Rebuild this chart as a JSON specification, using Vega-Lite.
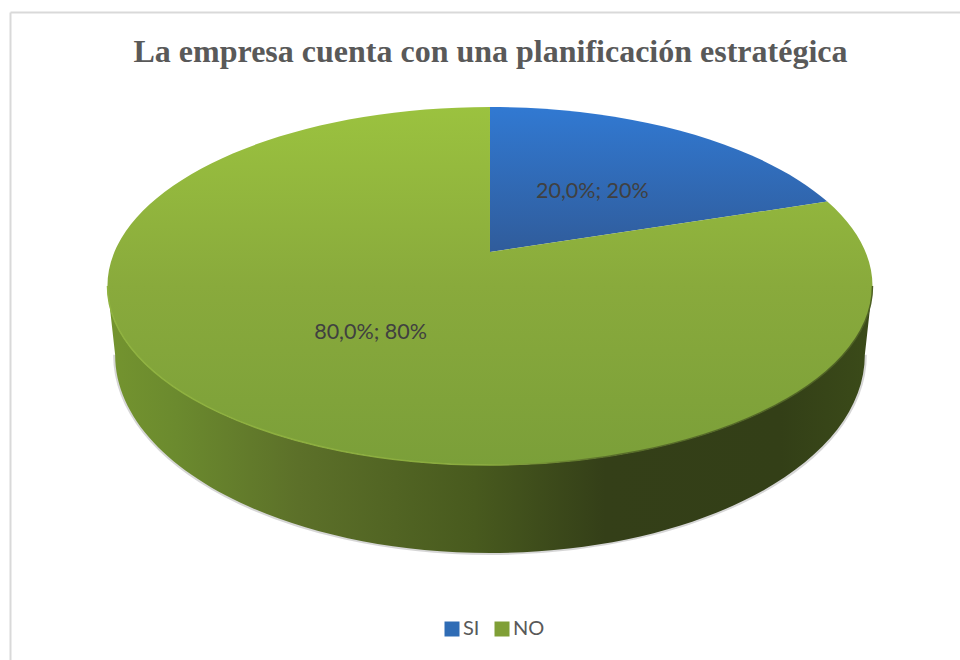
{
  "$schema": "https://vega.github.io/schema/vega-lite/v6.json",
  "width": 950,
  "height": 648,
  "padding": {"left": 10, "top": 12, "right": 0, "bottom": 0},
  "autosize": "none",
  "background": "white",
  "view": {"stroke": null},
  "title": {
    "text": "La empresa cuenta con una planificación estratégica",
    "font": "Liberation Serif",
    "fontSize": 32,
    "fontWeight": "bold",
    "color": "#595959",
    "anchor": "middle",
    "offset": -57,
    "dx": 5.5
  },
  "data": {"values": [
    {"answer": "SI", "value": 20},
    {"answer": "NO", "value": 80}
  ]},
  "transform": [
    {"joinaggregate": [{"op": "sum", "field": "value", "as": "total"}]},
    {"window": [{"op": "sum", "field": "value", "as": "cum"}], "sort": [{"field": "value", "order": "ascending"}]},
    {"calculate": "2*PI*(datum.cum-datum.value)/datum.total", "as": "a0"},
    {"calculate": "2*PI*datum.cum/datum.total", "as": "a1"},
    {"calculate": "(datum.a0+datum.a1)/2", "as": "mid"},
    {"calculate": "round(100000*sin(datum.a0)*0.9818/(1+0.19*cos(datum.a0)))/100000+','+round(-46800*(cos(datum.a0)+0.19)/(1+0.19*cos(datum.a0)))/100000", "as": "p0"},
    {"calculate": "round(100000*sin(datum.a1)*0.9818/(1+0.19*cos(datum.a1)))/100000+','+round(-46800*(cos(datum.a1)+0.19)/(1+0.19*cos(datum.a1)))/100000", "as": "p1"},
    {"calculate": "'M0,-0.0889 L'+datum.p0+' A1,0.468 0 '+(datum.a1-datum.a0>PI?1:0)+' 1 '+datum.p1+' Z'", "as": "wedge"},
    {"calculate": "0.5*sin(datum.mid)*0.9818/(1+0.095*cos(datum.mid))", "as": "labelX"},
    {"calculate": "(0.5*cos(datum.mid)+0.19)/(1+0.095*cos(datum.mid))", "as": "labelY"},
    {"calculate": "replace(format(datum.value,'.1f'),'.',',')+'%; '+format(datum.value/datum.total,'.0%')", "as": "labelText"}
  ],
  "layer": [
    {
      "transform": [{"filter": "datum.answer==='NO'"}],
      "mark": {
        "type": "point", "filled": false, "opacity": 1, "strokeOpacity": 0.3, "stroke": "#777777", "strokeWidth": 4,
        "size": 585225,
        "shape": "M0.98,0.18 A0.98,0.518 0 0 1 -0.98,0.18"
      },
      "encoding": {
        "x": {"datum": 0, "type": "quantitative", "scale": {"domain": [-1.2565, 1.2304], "nice": false, "zero": false},
          "axis": {"orient": "top", "title": null, "ticks": false, "labels": false, "grid": false, "domain": true, "domainColor": "#d9d9d9", "domainWidth": 2}},
        "y": {"datum": 0, "type": "quantitative", "scale": {"domain": [-2.0894, 1.5307], "nice": false, "zero": false},
          "axis": {"orient": "left", "title": null, "ticks": false, "labels": false, "grid": false, "domain": true, "domainColor": "#d9d9d9", "domainWidth": 2}}
      }
    },
    {
      "transform": [{"filter": "datum.answer==='NO'"}],
      "mark": {
        "type": "point", "filled": true, "opacity": 1, "strokeWidth": 0,
        "size": 585225,
        "shape": "M-1,0 A1,0.468 0 0 0 1,0 L0.98,0.18 A0.98,0.518 0 0 1 -0.98,0.18 Z",
        "fill": {"gradient": "linear", "x1": 0, "y1": 0, "x2": 1, "y2": 0, "stops": [
          {"offset": 0, "color": "#74942f"},
          {"offset": 0.09, "color": "#6b8a2e"},
          {"offset": 0.25, "color": "#5c7029"},
          {"offset": 0.48, "color": "#485a1e"},
          {"offset": 0.65, "color": "#343f18"},
          {"offset": 0.88, "color": "#333f17"},
          {"offset": 1, "color": "#3b4b19"}
        ]}
      },
      "encoding": {"x": {"datum": 0, "type": "quantitative"}, "y": {"datum": 0, "type": "quantitative"}}
    },
    {
      "mark": {"type": "point", "filled": true, "opacity": 1, "strokeWidth": 0, "size": 585225},
      "encoding": {
        "x": {"datum": 0, "type": "quantitative"},
        "y": {"datum": 0, "type": "quantitative"},
        "shape": {"field": "wedge", "type": "nominal", "scale": null},
        "fill": {
          "condition": {"test": "datum.answer==='SI'", "value": {"gradient": "linear", "x1": 0, "y1": 0, "x2": 0, "y2": 1, "stops": [
            {"offset": 0, "color": "#3179d2"},
            {"offset": 1, "color": "#305c9b"}
          ]}},
          "value": {"gradient": "linear", "x1": 0, "y1": 0, "x2": 0, "y2": 1, "stops": [
            {"offset": 0, "color": "#9bc23f"},
            {"offset": 0.5, "color": "#89aa3c"},
            {"offset": 1, "color": "#7b9f39"}
          ]}
        }
      }
    },
    {
      "transform": [{"filter": "datum.answer==='NO'"}],
      "mark": {
        "type": "point", "filled": false, "opacity": 1, "strokeWidth": 1.5,
        "size": 585225,
        "shape": "M-1,0 A1,0.468 0 0 0 1,0",
        "stroke": {"gradient": "linear", "x1": 0, "y1": 0, "x2": 1, "y2": 0, "stops": [
          {"offset": 0, "color": "#90b340"},
          {"offset": 0.5, "color": "#8aab3e"},
          {"offset": 0.65, "color": "#5a6f2a"},
          {"offset": 1, "color": "#4d6023"}
        ]}
      },
      "encoding": {"x": {"datum": 0, "type": "quantitative"}, "y": {"datum": 0, "type": "quantitative"}}
    },
    {
      "mark": {"type": "text", "font": "Lato", "fontSize": 21.5, "color": "#404040", "align": "center", "baseline": "middle", "dy": 5},
      "encoding": {
        "x": {"field": "labelX", "type": "quantitative"},
        "y": {"field": "labelY", "type": "quantitative"},
        "text": {"field": "labelText", "type": "nominal"}
      }
    },
    {
      "mark": {"type": "point", "filled": true, "opacity": 0, "size": 1},
      "encoding": {
        "x": {"datum": 0, "type": "quantitative"},
        "y": {"datum": 0, "type": "quantitative"},
        "color": {
          "field": "answer", "type": "nominal",
          "scale": {"domain": ["SI", "NO"], "range": ["#2f6cb5", "#7f9f36"]},
          "legend": {
            "title": null, "orient": "none", "direction": "horizontal",
            "legendX": 432, "legendY": 607,
            "symbolType": "square", "symbolSize": 225, "symbolOpacity": 1, "symbolStrokeWidth": 0,
            "labelFont": "Lato", "labelFontSize": 20, "labelColor": "#595959", "labelOffset": 1, "columnPadding": 12
          }
        }
      }
    }
  ]
}
